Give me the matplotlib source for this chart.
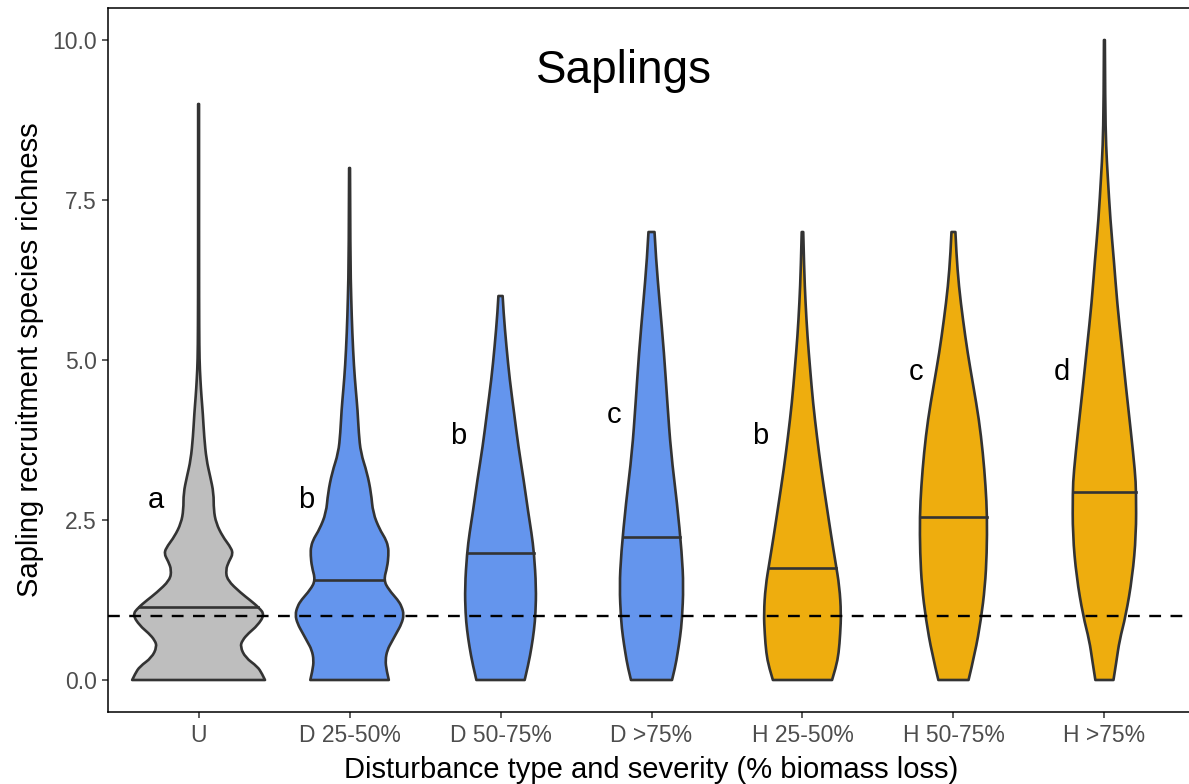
import numpy as np
import matplotlib.pyplot as plt
from matplotlib.path import Path
from matplotlib.patches import PathPatch

plt.rcParams['font.family'] = ['Liberation Sans', 'DejaVu Sans']

# groups
groups = ['U', 'D 25-50%', 'D 50-75%', 'D >75%', 'H 25-50%', 'H 50-75%', 'H >75%']
colors = ['#BEBEBE', '#6495ED', '#6495ED', '#6495ED', '#EEAD0E', '#EEAD0E', '#EEAD0E']

# violin outlines: y levels and half widths (x units)
u_y = [0, 0.1, 0.21, 0.35, 0.52, 0.62, 0.73, 0.85, 1.02, 1.13, 1.25, 1.36, 1.56, 1.72, 1.85, 1.98,
       2.1, 2.24, 2.45, 2.66, 2.92, 3.18, 3.44, 3.8, 4.17, 4.43, 4.69, 5.0, 5.5, 6.5, 9.0]
u_w = [0.44, 0.42, 0.39, 0.31, 0.276, 0.29, 0.33, 0.39, 0.437, 0.40, 0.34, 0.28, 0.19, 0.18, 0.2, 0.23,
       0.205, 0.16, 0.116, 0.10, 0.10, 0.077, 0.052, 0.037, 0.028, 0.019, 0.012, 0.006, 0.004, 0.003, 0.003]

d1_y = [0, 0.15, 0.31, 0.47, 0.6, 0.73, 0.88, 1.02, 1.15, 1.25, 1.41, 1.56, 1.77, 1.95, 2.09, 2.22, 2.35,
        2.61, 2.92, 3.24, 3.55, 3.86, 4.22, 4.54, 4.9, 5.43, 5.95, 6.6, 8.0]
d1_w = [0.26, 0.245, 0.237, 0.25, 0.28, 0.31, 0.345, 0.36, 0.345, 0.32, 0.26, 0.226, 0.25, 0.258, 0.256, 0.235, 0.20,
        0.155, 0.143, 0.116, 0.074, 0.061, 0.053, 0.041, 0.029, 0.018, 0.011, 0.005, 0.003]

d2_y = [0, 0.25, 0.52, 0.78, 1.04, 1.45, 1.98, 2.3, 2.61, 3.13, 3.65, 4.17, 4.69, 5.21, 5.74, 6.0]
d2_w = [0.16, 0.185, 0.206, 0.222, 0.232, 0.236, 0.222, 0.205, 0.184, 0.153, 0.118, 0.09, 0.061, 0.039, 0.02, 0.014]

d3_y = [0, 0.2, 0.42, 0.68, 0.94, 1.46, 1.98, 2.77, 3.55, 4.33, 5.11, 5.9, 6.57, 7.0]
d3_w = [0.136, 0.157, 0.173, 0.19, 0.202, 0.212, 0.201, 0.169, 0.129, 0.105, 0.083, 0.054, 0.03, 0.02]

h1_y = [0, 0.2, 0.42, 0.72, 1.04, 1.46, 1.85, 2.24, 2.77, 3.29, 3.8, 4.33, 4.85, 5.37, 5.9, 6.42, 7.0]
h1_w = [0.196, 0.222, 0.24, 0.25, 0.256, 0.245, 0.218, 0.191, 0.157, 0.124, 0.096, 0.07, 0.051, 0.033, 0.02, 0.011, 0.005]

h2_y = [0, 0.42, 0.94, 1.46, 1.98, 2.56, 3.03, 3.55, 4.07, 4.59, 5.11, 5.63, 6.15, 6.68, 7.0]
h2_w = [0.10, 0.143, 0.182, 0.209, 0.221, 0.223, 0.213, 0.195, 0.169, 0.132, 0.094, 0.063, 0.036, 0.019, 0.013]

h3_y = [0, 0.3, 0.62, 1.0, 1.61, 2.27, 2.94, 3.25, 3.91, 4.57, 5.23, 5.88, 6.55, 7.2, 7.87, 8.33, 9.0, 10.0]
h3_w = [0.06, 0.08, 0.10, 0.141, 0.185, 0.21, 0.21, 0.203, 0.174, 0.143, 0.114, 0.085, 0.063, 0.039, 0.022, 0.011, 0.005, 0.003]

profiles = [(u_y, u_w), (d1_y, d1_w), (d2_y, d2_w), (d3_y, d3_w),
            (h1_y, h1_w), (h2_y, h2_w), (h3_y, h3_w)]

medians = [1.14, 1.56, 1.99, 2.24, 1.75, 2.55, 2.94]

letters = ['a', 'b', 'b', 'c', 'b', 'c', 'd']
letter_x = [0.715, 1.715, 2.72, 3.75, 4.72, 5.75, 6.72]
letter_y = [2.69, 2.69, 3.68, 4.02, 3.68, 4.69, 4.69]


def side_path(pts):
    # smooth curve using the read points as control points
    verts, codes = [], []
    for k in range(1, len(pts) - 1):
        mid = ((pts[k][0] + pts[k + 1][0]) / 2, (pts[k][1] + pts[k + 1][1]) / 2)
        if k == len(pts) - 2:
            mid = pts[k + 1]
        verts += [pts[k], mid]
        codes += [Path.CURVE3, Path.CURVE3]
    return verts, codes


def violin_patch(pos, py, pw, fc):
    right = [(pos + w, y) for y, w in zip(py, pw)]
    left = [(pos - w, y) for y, w in zip(py, pw)][::-1]
    verts = [left[-1], right[0]]
    codes = [Path.MOVETO, Path.LINETO]
    v, c = side_path(right)
    verts += v
    codes += c
    verts.append(left[0])
    codes.append(Path.LINETO)
    v, c = side_path(left)
    verts += v
    codes += c
    verts.append(left[-1])
    codes.append(Path.CLOSEPOLY)
    return PathPatch(Path(verts, codes), facecolor=fc, edgecolor='#333333',
                     linewidth=1.9, joinstyle='round', zorder=2)


fig = plt.figure(figsize=(11.89, 7.84), dpi=100)
ax = fig.add_axes([108 / 1189, 1 - 712 / 784, 1087 / 1189, 704 / 784])

for i, (py, pw) in enumerate(profiles):
    pos = i + 1
    ax.add_patch(violin_patch(pos, py, pw, colors[i]))
    mw = np.interp(medians[i], py, pw)
    ax.plot([pos - mw, pos + mw], [medians[i], medians[i]], color='#333333', lw=1.9, zorder=3)

ax.axhline(1, color='black', lw=1.7, ls=(0, (5, 4)), zorder=4)

for lx, ly, s in zip(letter_x, letter_y, letters):
    ax.text(lx, ly, s, ha='center', va='baseline', fontsize=21, color='black')

ax.text(3.82, 9.33, 'Saplings', ha='center', va='baseline', fontsize=33, color='black')

ax.set_xlim(0.4, 7.6)
ax.set_ylim(-0.5, 10.5)
ax.set_xticks(range(1, len(groups) + 1))
ax.set_xticklabels(groups)
ax.set_yticks([0, 2.5, 5, 7.5, 10])
ax.set_yticklabels(['0.0', '2.5', '5.0', '7.5', '10.0'])
ax.tick_params(axis='both', labelsize=16.5, labelcolor='#4D4D4D', color='#333333',
               length=4, width=1.1)
ax.tick_params(axis='x', pad=5)
ax.tick_params(axis='y', pad=4)

for s in ax.spines.values():
    s.set_linewidth(1.1)
    s.set_color('black')

ax.set_xlabel('Disturbance type and severity (% biomass loss)', fontsize=21, labelpad=6)
ax.set_ylabel('Sapling recruitment species richness', fontsize=21, labelpad=6)

fig.savefig('out.png', dpi=100)
